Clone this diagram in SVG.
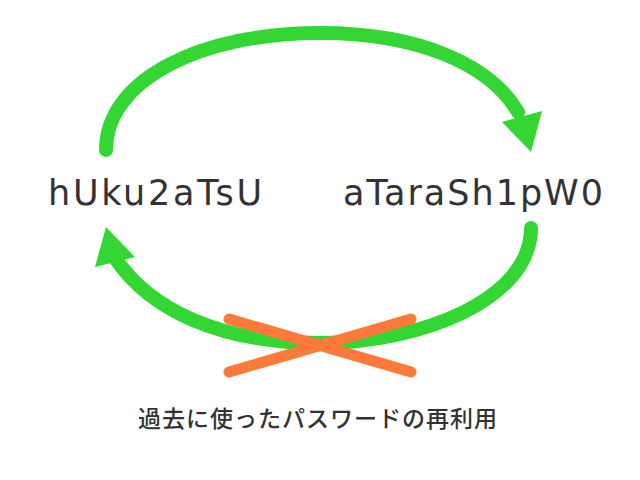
<svg xmlns="http://www.w3.org/2000/svg" width="640" height="480" viewBox="0 0 640 480">
<style>
.arc{fill:none;stroke:#33d633;stroke-width:14;stroke-linecap:round}
.head{fill:#33d633}
.x{stroke:#ff7a3a;stroke-width:11;stroke-linecap:round}
.pw{font-family:"DejaVu Sans","Noto Sans",sans-serif;font-size:35px;fill:#333}
.cap{font-family:"Noto Sans CJK JP","Noto Sans",sans-serif;font-size:23px;font-weight:500;fill:#333}
</style>
<rect width="640" height="480" fill="#fff"/>
<g id="connectors">
<path class="arc" d="M106,150 C106,80 200,33 320,33 C420,33 490,65 518,112"/>
<polygon class="head" points="502,122 542,111 531,152"/>
<path class="arc" d="M531,228 C531,300 420,343 320,343 C220,343 150,310 115,258"/>
<polygon class="head" points="95,267 106,227 135,257"/>
</g>
<g id="cross">
<line class="x" x1="229" y1="319" x2="411" y2="372"/>
<line class="x" x1="229" y1="372" x2="411" y2="319"/>
</g>
<g id="node-left"><text class="pw" x="48" y="205" textLength="214" lengthAdjust="spacing">hUku2aTsU</text></g>
<g id="node-right"><text class="pw" x="343" y="205" textLength="260" lengthAdjust="spacing">aTaraSh1pW0</text></g>
<g id="caption"><text class="cap" x="138" y="427" textLength="359" lengthAdjust="spacing">過去に使ったパスワードの再利用</text></g>
</svg>
